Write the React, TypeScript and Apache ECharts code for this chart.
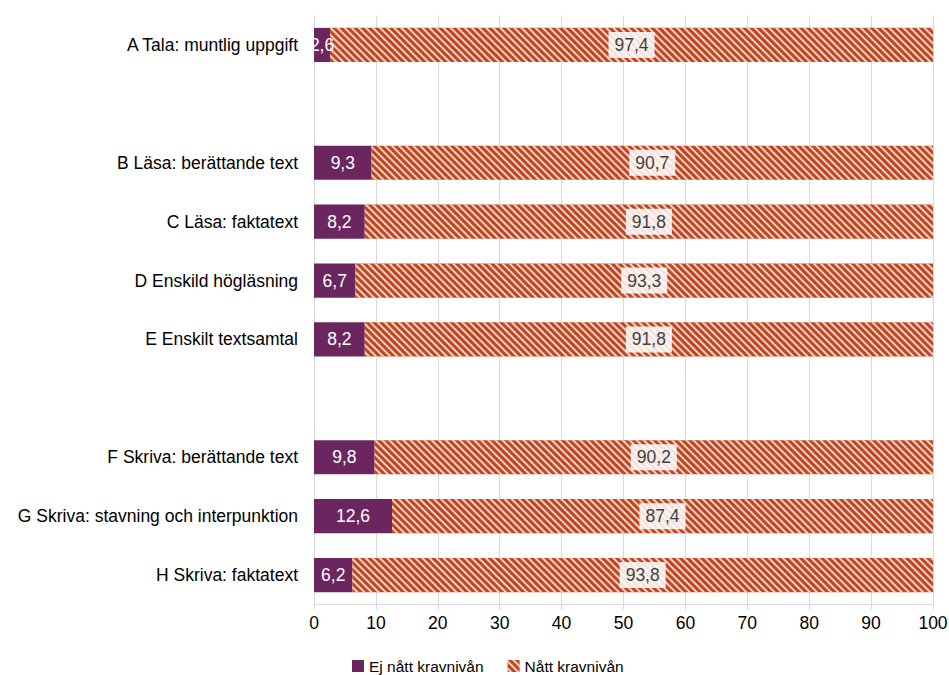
import React, { useEffect, useRef } from "react";
import * as echarts from "echarts";

const categories = [
  "A Tala: muntlig uppgift",
  "",
  "B Läsa: berättande text",
  "C Läsa: faktatext",
  "D Enskild högläsning",
  "E Enskilt textsamtal",
  " ",
  "F Skriva: berättande text",
  "G Skriva: stavning och interpunktion",
  "H Skriva: faktatext",
];
const ejNatt: (number | null)[] = [2.6, null, 9.3, 8.2, 6.7, 8.2, null, 9.8, 12.6, 6.2];
const natt: (number | null)[] = [97.4, null, 90.7, 91.8, 93.3, 91.8, null, 90.2, 87.4, 93.8];
const seriesNames = ["Ej nått kravnivån", "Nått kravnivån"];

const FONT = '"Liberation Sans", Arial, sans-serif';
const fmt = (p: any) =>
  p.value == null ? "" : p.value.toFixed(1).replace(".", ",");

export default function App() {
  const ref = useRef<HTMLDivElement>(null);
  useEffect(() => {
    document.body.style.margin = "0";
    const chart = echarts.init(ref.current!, undefined, { renderer: "svg" });
    chart.setOption({
      animation: false,
      textStyle: { fontFamily: FONT },
      grid: {
        left: 314,
        right: 16,
        top: 15.5,
        bottom: 70.5,
        containLabel: false,
        outerBoundsMode: "none",
      },
      legend: {
        top: 658,
        left: 352,
        padding: 0,
        itemWidth: 12,
        itemHeight: 12,
        itemGap: 24,
        icon: "rect",
        textStyle: { fontSize: 15.5, color: "#000", fontFamily: FONT },
        data: seriesNames,
      },
      xAxis: {
        type: "value",
        min: 0,
        max: 100,
        interval: 10,
        axisLine: { show: true, lineStyle: { color: "#d9d9d9" } },
        axisTick: { show: true, length: 5, lineStyle: { color: "#d9d9d9" } },
        splitLine: { show: true, lineStyle: { color: "#d9d9d9" } },
        axisLabel: { fontSize: 17.5, color: "#000", margin: 9, fontFamily: FONT },
      },
      yAxis: {
        type: "category",
        inverse: true,
        data: categories,
        axisLine: { show: false },
        axisTick: { show: false },
        axisLabel: { fontSize: 17.5, color: "#000", margin: 16, fontFamily: FONT },
      },
      series: [
        {
          name: seriesNames[0],
          type: "bar",
          stack: "s",
          data: ejNatt,
          barWidth: "58%",
          itemStyle: { color: "#6b2660" },
          label: {
            show: true,
            position: "inside",
            color: "#fff",
            fontSize: 17.5,
            fontFamily: FONT,
            formatter: fmt,
          },
        },
        {
          name: seriesNames[1],
          type: "bar",
          stack: "s",
          data: natt,
          barWidth: "58%",
          itemStyle: {
            color: "#c0461f",
            decal: {
              symbol: "rect",
              symbolSize: 1,
              dashArrayX: [1, 0],
              dashArrayY: [2, 3],
              rotation: Math.PI / 4,
              color: "rgba(255,255,255,0.75)",
            },
          },
          label: {
            show: true,
            position: "inside",
            color: "#404040",
            fontSize: 17.5,
            fontFamily: FONT,
            backgroundColor: "rgba(255,255,255,0.85)",
            padding: [4, 6],
            formatter: fmt,
          },
        },
      ],
    });
    return () => chart.dispose();
  }, []);
  return <div ref={ref} style={{ width: 949, height: 675 }} />;
}
